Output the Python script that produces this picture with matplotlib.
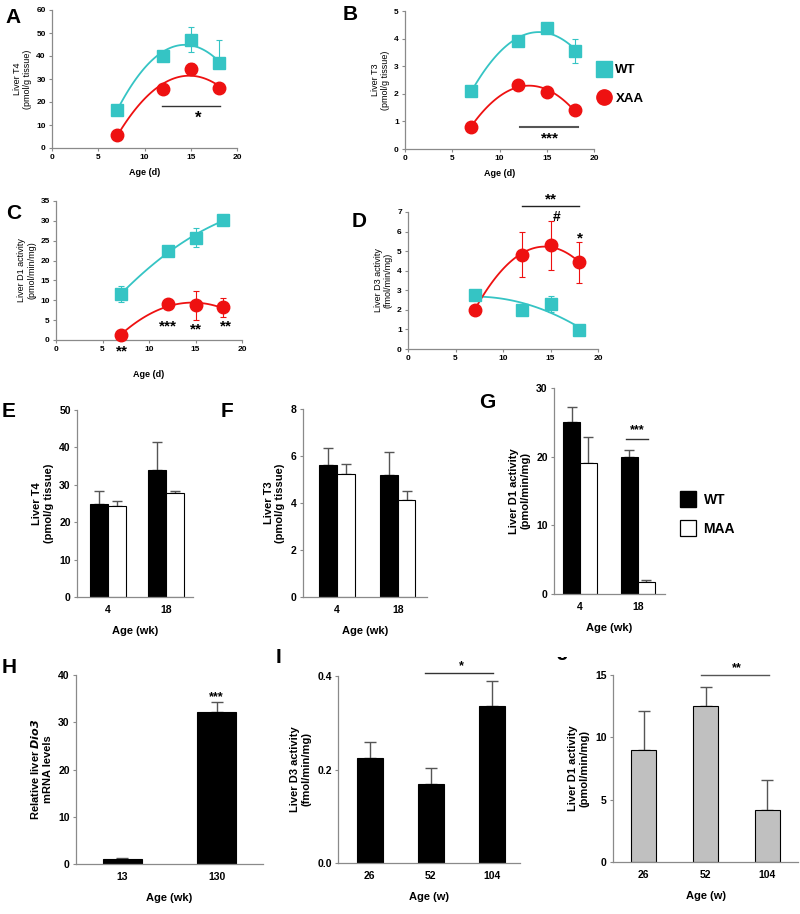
import matplotlib
matplotlib.use("Agg")
import matplotlib.pyplot as plt
import numpy as np
from matplotlib.lines import Line2D
from matplotlib.patches import Rectangle

plt.rcParams["font.family"] = ["Liberation Sans", "DejaVu Sans"]

W, H = 800, 914

# ---- data: postnatal time course (days) ----
age_d = [7, 12, 15, 18]

a_wt = [16.5, 40, 47, 37]
a_wt_lo = [0, 0, 5.4, 0]
a_wt_hi = [0, 0, 5.4, 10]
a_xaa = [5.5, 25.5, 34.5, 26]
a_xaa_err = [0, 0, 2.5, 0]

b_wt = [2.1, 3.9, 4.38, 3.55]
b_wt_err = [0, 0, 0, 0.42]
b_xaa = [0.8, 2.33, 2.05, 1.4]
b_xaa_err = [0, 0, 0, 0]

c_wt = [11.5, 22.5, 25.8, 30.3]
c_wt_err = [2.0, 0, 2.5, 0]
c_xaa = [1.3, 9.0, 8.7, 8.2]
c_xaa_err = [0, 0, 3.6, 2.3]

d_wt = [2.75, 2.0, 2.3, 0.95]
d_wt_err = [0, 0, 0.4, 0]
d_xaa = [2.0, 4.82, 5.3, 4.42]
d_xaa_err = [0, 1.15, 1.25, 1.03]

# ---- data: adult (weeks) ----
age_wk = ["4", "18"]
e_wt, e_wt_err = [25.0, 34.0], [3.3, 7.5]
e_maa, e_maa_err = [24.2, 27.7], [1.4, 0.6]
f_wt, f_wt_err = [5.6, 5.2], [0.72, 0.98]
f_maa, f_maa_err = [5.22, 4.12], [0.42, 0.38]
g_wt, g_wt_err = [25.0, 20.0], [2.2, 0.9]
g_maa, g_maa_err = [19.1, 1.8], [3.7, 0.3]

h_age = ["13", "130"]
h_val, h_err = [1.0, 32.2], [0.2, 2.0]

ij_age = ["26", "52", "104"]
i_val, i_err = [0.225, 0.168, 0.335], [0.033, 0.036, 0.055]
j_val, j_err = [9.0, 12.5, 4.2], [3.1, 1.5, 2.4]

CYAN = "#35C4C4"
RED = "#EE1111"
SPINE = "#8a8a8a"

fig = plt.figure(figsize=(W / 100, H / 100), dpi=100)


def add_ax(left, top, right, bottom):
    return fig.add_axes([left / W, 1 - bottom / H, (right - left) / W, (bottom - top) / H])


def style(ax, tick_fs):
    for s in ["top", "right"]:
        ax.spines[s].set_visible(False)
    for s in ["left", "bottom"]:
        ax.spines[s].set_color(SPINE)
        ax.spines[s].set_linewidth(0.9)
    ax.tick_params(colors=SPINE, length=2.5, width=0.8, labelsize=tick_fs, labelcolor="black", pad=2)
    for lab in ax.get_xticklabels() + ax.get_yticklabels():
        lab.set_fontweight("bold")


def time_panel(ax, wt, wt_err, xaa, xaa_err, ylim, yticks, ylabel):
    xs = np.linspace(7, 18, 100)
    for y, err, col, mk in [(wt, wt_err, CYAN, "s"), (xaa, xaa_err, RED, "o")]:
        coef = np.polyfit(age_d, y, 2)
        ax.plot(xs, np.polyval(coef, xs), color=col, lw=1.3, zorder=2)
        ax.errorbar(age_d, y, yerr=err, fmt="none", ecolor=col, elinewidth=0.8, capsize=2.5, capthick=0.8, zorder=2)
        ax.plot(age_d, y, mk, color=col, ms=9, mec=col, zorder=3, clip_on=False)
    ax.set_xlim(0, 20)
    ax.set_xticks([0, 5, 10, 15, 20])
    ax.set_ylim(*ylim)
    ax.set_yticks(yticks)
    ax.set_ylabel(ylabel, fontsize=6.5, labelpad=3, linespacing=1.1)
    ax.set_xlabel("Age (d)", fontsize=6.5, fontweight="bold", labelpad=5)
    style(ax, 6)


# Panel A
axA = add_ax(52, 10, 237, 148)
time_panel(axA, a_wt, [a_wt_lo, a_wt_hi], a_xaa, a_xaa_err, (0, 60), range(0, 61, 10), "Liver T4\n(pmol/g tissue)")
axA.plot([11.9, 18.2], [18.3, 18.3], color="#333333", lw=1)
axA.text(15.8, 13.0, "*", ha="center", va="center", fontsize=12, fontweight="bold")

# Panel B
axB = add_ax(405, 11, 594, 149)
time_panel(axB, b_wt, b_wt_err, b_xaa, b_xaa_err, (0, 5), range(0, 6), "Liver T3\n(pmol/g tissue)")
axB.plot([12.2, 18.3], [0.81, 0.81], color="#555555", lw=1.5)
axB.text(15.3, 0.38, "***", ha="center", va="center", fontsize=11, fontweight="bold")

# Panel C
axC = add_ax(56, 201, 242, 340)
time_panel(axC, c_wt, c_wt_err, c_xaa, c_xaa_err, (0, 35), range(0, 36, 5), "Liver D1 activity\n(pmol/min/mg)")
for x, y, s in [(7.06, -3.0, "**"), (12.0, 3.3, "***"), (15.1, 2.7, "**"), (18.3, 3.3, "**")]:
    axC.text(x, y, s, ha="center", va="center", fontsize=11, fontweight="bold", clip_on=False)
axC.xaxis.labelpad = 12

# Panel D
axD = add_ax(408, 212, 598, 349)
time_panel(axD, d_wt, d_wt_err, d_xaa, d_xaa_err, (0, 7), range(0, 8), "Liver D3 activity\n(fmol/min/mg)")
axD.set_xlabel("")
axD.plot([12, 18], [7.32, 7.32], color="#222222", lw=1, clip_on=False)
axD.text(15.0, 7.65, "**", ha="center", va="center", fontsize=11, fontweight="bold", clip_on=False)
axD.text(15.6, 6.72, "#", ha="center", va="center", fontsize=10, fontweight="bold")
axD.text(18.1, 5.65, "*", ha="center", va="center", fontsize=11, fontweight="bold")


def bar_style(ax, xlim, ylim, yticks, ylabel, xlabel, cats):
    ax.set_xlim(*xlim)
    ax.set_ylim(*ylim)
    ax.set_yticks(yticks)
    ax.set_xticks(range(len(cats)))
    ax.set_xticklabels(cats)
    ax.set_ylabel(ylabel, fontsize=8, fontweight="bold", labelpad=4, linespacing=1.15)
    ax.set_xlabel(xlabel, fontsize=8, fontweight="bold", labelpad=8)
    style(ax, 7.5)
    ax.tick_params(axis="x", length=0, pad=6)


def pair_bars(ax, wt, wt_err, maa, maa_err, w=0.3):
    x = np.arange(len(wt))
    ax.bar(x - w / 2, wt, w, color="black", edgecolor="black", lw=0.8, zorder=2)
    ax.bar(x + w / 2, maa, w, color="white", edgecolor="black", lw=0.8, zorder=2)
    ax.errorbar(x - w / 2, wt, yerr=[np.zeros(len(wt)), wt_err], fmt="none", ecolor="#555555", elinewidth=1, capsize=3.5, capthick=1, zorder=1)
    ax.errorbar(x + w / 2, maa, yerr=[np.zeros(len(maa)), maa_err], fmt="none", ecolor="#555555", elinewidth=1, capsize=3.5, capthick=1, zorder=1)


# Panel E
axE = add_ax(77, 410, 193, 597)
pair_bars(axE, e_wt, e_wt_err, e_maa, e_maa_err, 0.31)
bar_style(axE, (-0.53, 1.47), (0, 50), range(0, 51, 10), "Liver T4\n(pmol/g tissue)", "Age (wk)", age_wk)

# Panel F
axF = add_ax(303, 409, 427, 597)
pair_bars(axF, f_wt, f_wt_err, f_maa, f_maa_err, 0.29)
bar_style(axF, (-0.56, 1.48), (0, 8), range(0, 9, 2), "Liver T3\n(pmol/g tissue)", "Age (wk)", age_wk)

# Panel G
axG = add_ax(554, 388, 665, 594)
pair_bars(axG, g_wt, g_wt_err, g_maa, g_maa_err, 0.29)
bar_style(axG, (-0.45, 1.47), (0, 30), range(0, 31, 10), "Liver D1 activity\n(pmol/min/mg)", "Age (wk)", age_wk)
axG.plot([0.8, 1.18], [22.6, 22.6], color="#333333", lw=1)
axG.text(0.99, 23.0, "***", ha="center", va="bottom", fontsize=9, fontweight="bold")

# Panel H
axH = add_ax(76, 675, 263, 864)
axH.bar([0, 1], h_val, 0.415, color="black", edgecolor="black", lw=0.8, zorder=2)
axH.errorbar([0, 1], h_val, yerr=[[0, 0], h_err], fmt="none", ecolor="#555555", elinewidth=1, capsize=4, capthick=1, zorder=1)
bar_style(axH, (-0.49, 1.49), (0, 40), range(0, 41, 10), "Relative liver $\\mathbfit{Dio3}$\nmRNA levels", "Age (wk)", h_age)
axH.text(1, 34.0, "***", ha="center", va="bottom", fontsize=9, fontweight="bold")

# Panel I
axI = add_ax(338, 676, 520, 863)
axI.bar(range(3), i_val, 0.43, color="black", edgecolor="black", lw=0.8, zorder=2)
axI.errorbar(range(3), i_val, yerr=[[0, 0, 0], i_err], fmt="none", ecolor="#555555", elinewidth=1, capsize=4, capthick=1, zorder=1)
bar_style(axI, (-0.52, 2.46), (0, 0.4), [0.0, 0.2, 0.4], "Liver D3 activity\n(fmol/min/mg)", "Age (w)", ij_age)
axI.yaxis.set_major_formatter(matplotlib.ticker.FormatStrFormatter("%.1f"))
axI.plot([0.9, 2.02], [0.407, 0.407], color="#333333", lw=1, clip_on=False)
axI.text(1.5, 0.409, "*", ha="center", va="bottom", fontsize=9, fontweight="bold")

# Panel J
axJ = add_ax(613, 675, 798, 862)
axJ.bar(range(3), j_val, 0.41, color="#C0C0C0", edgecolor="black", lw=0.8, zorder=2)
axJ.errorbar(range(3), j_val, yerr=[[0, 0, 0], j_err], fmt="none", ecolor="#555555", elinewidth=1, capsize=4, capthick=1, zorder=1)
bar_style(axJ, (-0.5, 2.5), (0, 15), range(0, 16, 5), "Liver D1 activity\n(pmol/min/mg)", "Age (w)", ij_age)
axJ.plot([0.92, 2.03], [15.0, 15.0], color="#555555", lw=1, clip_on=False)
axJ.text(1.5, 15.1, "**", ha="center", va="bottom", fontsize=9, fontweight="bold")

# legends
h1 = [Line2D([], [], ls="", marker="s", color=CYAN, ms=11),
      Line2D([], [], ls="", marker="o", color=RED, ms=11)]
fig.legend(h1, ["WT", "XAA"], loc="upper left", bbox_to_anchor=(597 / W, 1 - 64 / H), frameon=False,
           prop={"size": 9.5, "weight": "bold"}, handlelength=1.0, handletextpad=0.4, labelspacing=1.25, borderpad=0, borderaxespad=0)
h2 = [Line2D([], [], ls="", marker="s", mfc="black", mec="black", ms=12),
      Line2D([], [], ls="", marker="s", mfc="white", mec="black", mew=0.9, ms=12)]
fig.legend(h2, ["WT", "MAA"], loc="upper left", bbox_to_anchor=(680 / W, 1 - 493 / H), frameon=False,
           prop={"size": 10, "weight": "bold"}, handlelength=1.1, handletextpad=0.6, labelspacing=1.1, borderpad=0, borderaxespad=0)

# panel letters
for lab, x, y in [("A", 5, 8), ("B", 343, 5), ("C", 6, 204), ("D", 352, 212), ("E", 2, 402),
                  ("F", 221, 402), ("G", 479, 393), ("H", 2, 658), ("I", 276, 648), ("J", 557, 645)]:
    fig.text(x / W, 1 - y / H, lab, fontsize=15, fontweight="bold", ha="left", va="top")
fig.add_artist(Rectangle((550 / W, 1 - 657 / H), 30 / W, 17 / H, transform=fig.transFigure,
                         facecolor="white", edgecolor="none", zorder=5))

fig.savefig("out.png", dpi=100)
